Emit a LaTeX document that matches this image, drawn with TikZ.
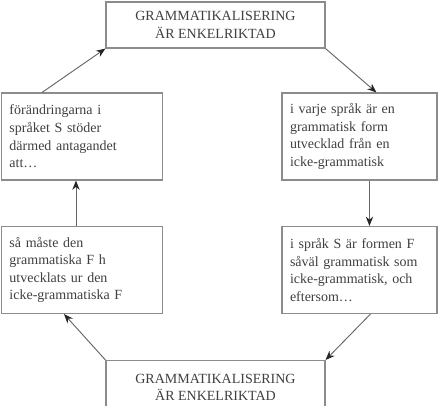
\documentclass[tikz,border=0pt]{standalone}
\usepackage{fontspec}
\setmainfont{Liberation Serif}
\usepackage{xcolor}
\usetikzlibrary{arrows.meta,calc}

\begin{document}
\begin{tikzpicture}[
      x=0.75pt, y=-0.75pt,
      box/.style={
        rectangle,
        draw=black!45,
        line width=0.8pt,
        fill=white,
        text=black!75,
        font=\fontsize{10.5}{13.2}\selectfont,
        inner xsep=6pt,
        minimum height=65.25pt
      },
      claim/.style={
        box,
        align=center,
        minimum width=164.25pt,
        minimum height=34.5pt
      },
      stepleft/.style={box,align=left,text width=108.75pt},
      stepright/.style={box,align=left,text width=104.25pt},
      arrow/.style={-{Stealth[length=7pt,width=5.5pt,color=black!85]},draw=black!60,line width=0.7pt}
    ]
    \useasboundingbox (0,0) rectangle (443,405);

    % Claims, top and bottom
    \node[claim] (top) at (215.5,25) {GRAMMATIKALISERING\\ÄR ENKELRIKTAD};
    \node[claim,anchor=north,minimum height=40pt] (bot) at (215.5,360) {GRAMMATIKALISERING\\ÄR ENKELRIKTAD};

    % Steps of the argument
    \node[stepright] (ru) at (359.5,136.5) {i varje språk är en\\grammatisk form\\utvecklad från en\\icke-grammatisk};
    \node[stepright] (rl) at (359.5,270) {i språk S är formen F\\såväl grammatisk som\\icke-grammatisk, och\\eftersom\dots};
    \node[stepleft] (ll) at (82,270) {så måste den\\grammatiska F h\\utvecklats ur den\\icke-grammatiska F};
    \node[stepleft] (lu) at (82,136.5) {förändringarna i\\språket S stöder\\därmed antagandet\\att\dots};

    \draw[arrow] (top.south east) -- ($(ru.north west)+(95,0)$);
    \draw[arrow] ($(ru.south west)+(88,0)$) -- ($(rl.north west)+(88,0)$);
    \draw[arrow] ($(rl.south west)+(89,0)$) -- (bot.north east);
    \draw[arrow] (bot.north west) -- ($(ll.south west)+(63,0)$);
    \draw[arrow] ($(ll.north west)+(75,0)$) -- ($(lu.south west)+(75,0)$);
    \draw[arrow] ($(lu.north west)+(41,0)$) -- (top.south west);
  \end{tikzpicture}
\end{document}
